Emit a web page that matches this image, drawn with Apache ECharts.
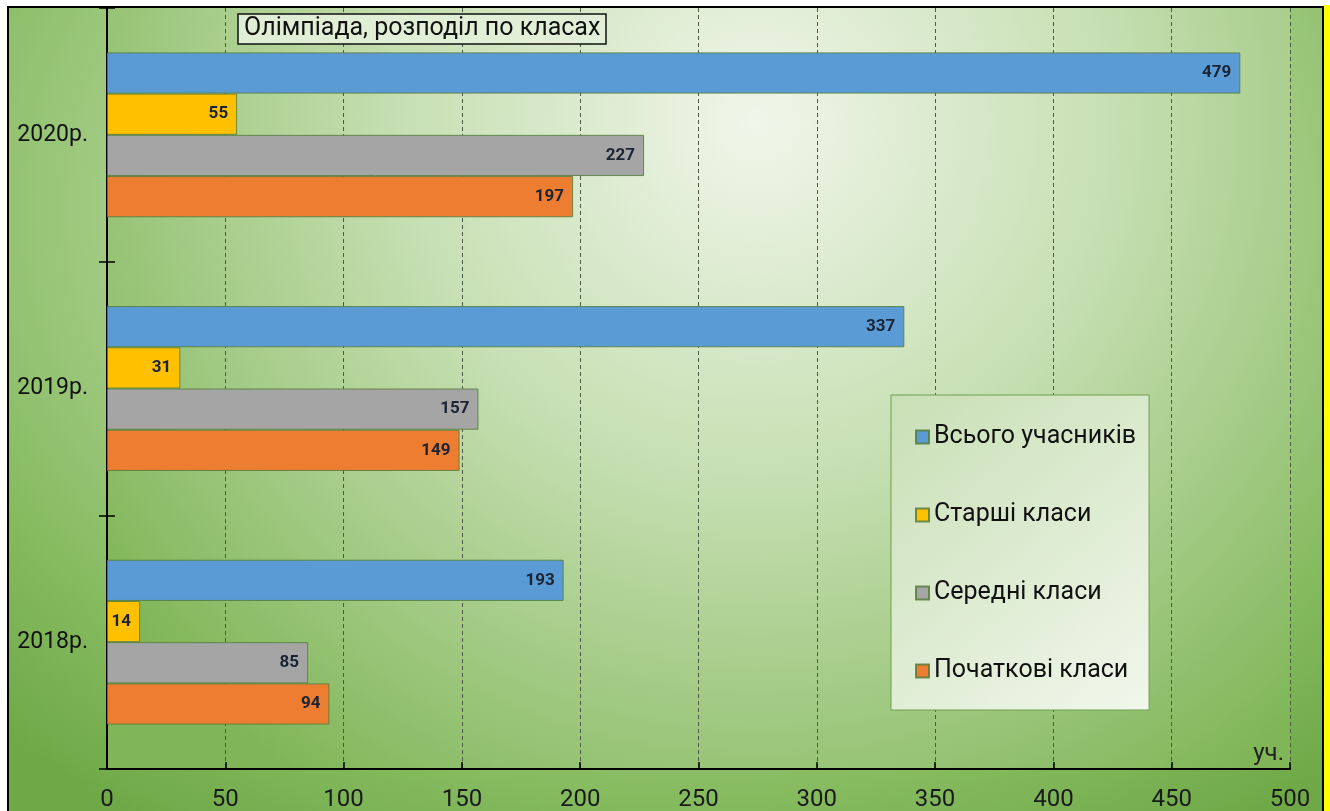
<!DOCTYPE html>
<html>
<head>
<meta charset="utf-8">
<script src="https://cdn.jsdelivr.net/npm/echarts@6/dist/echarts.min.js"></script>
<style>
  html, body { margin: 0; padding: 0; width: 1330px; height: 811px; background: #fff; overflow: hidden; }
  #frame {
    position: absolute; left: 7px; top: 6px; width: 1313px; height: 812px;
    border: 2px solid #000;
    background: radial-gradient(ellipse 75% 90% at 52% 25%, #e6f1dc 0%, #b5d59b 45%, #86bb60 80%, #6fa947 100%);
  }
  #strip { position: absolute; left: 1324px; top: 5px; width: 6px; height: 806px; background: #ffff00; }
  #chart { position: absolute; left: 0; top: 0; width: 1330px; height: 811px; }
</style>
</head>
<body>
<div id="frame"></div>
<div id="strip"></div>
<div id="chart"></div>
<script>
// дані олімпіади
var categories = ['2018р.', '2019р.', '2020р.']
var seriesNames = ['Всього учасників', 'Старші класи', 'Середні класи', 'Початкові класи']
var totalAll = [193, 337, 479]
var senior = [14, 31, 55]
var middle = [85, 157, 227]
var primary = [94, 149, 197]
var xMin = 0
var xMax = 500
var xStep = 50

var font = 'Roboto'

function barSeries(name, data, color) {
  return {
    name: name,
    type: 'bar',
    data: data,
    barGap: '0%',
    barCategoryGap: '35%',
    itemStyle: { color: color, borderColor: 'rgba(85,125,60,0.85)', borderWidth: 1 },
    label: {
      show: true,
      position: 'insideRight',
      distance: 9,
      fontFamily: font,
      fontWeight: 'bold',
      fontSize: 17,
      color: '#1b2433'
    }
  }
}

var chart = echarts.init(document.getElementById('chart'))
var options = {
  animation: false,
  title: {
    text: 'Олімпіада, розподіл по класах',
    left: 238,
    top: 14,
    padding: [3, 6, 3, 6],
    borderColor: '#111',
    borderWidth: 1.5,
    backgroundColor: 'rgba(226,239,216,0.95)',
    textStyle: { fontFamily: font, fontSize: 25, fontWeight: 'normal', color: '#111', lineHeight: 24 }
  },
  legend: {
    orient: 'vertical',
    left: 891,
    top: 395,
    data: seriesNames,
    icon: 'rect',
    padding: [28, 13, 25, 24],
    itemGap: 50,
    itemWidth: 13,
    itemHeight: 13,
    borderColor: '#6f9f4f',
    borderWidth: 1,
    backgroundColor: {
      type: 'linear', x: 0, y: 0, x2: 1, y2: 1,
      colorStops: [
        { offset: 0, color: '#c8dfb5' },
        { offset: 1, color: '#f1f7ec' }
      ]
    },
    textStyle: { fontFamily: font, fontSize: 25, lineHeight: 28, color: '#111' }
  },
  grid: {
    left: 107,
    right: 40,
    top: 8,
    bottom: 42,
    outerBoundsMode: 'none',
    show: true,
    borderWidth: 0,
    backgroundColor: {
      type: 'radial', x: 0.55, y: 0.15, r: 1.05,
      colorStops: [
        { offset: 0, color: '#f0f6ea' },
        { offset: 0.45, color: '#c6dfb2' },
        { offset: 1, color: '#80b658' }
      ]
    }
  },
  xAxis: {
    type: 'value',
    min: xMin,
    max: xMax,
    interval: xStep,
    name: 'уч.',
    nameLocation: 'end',
    nameGap: -6,
    nameTextStyle: {
      fontFamily: font, fontSize: 24, color: '#222',
      align: 'right', verticalAlign: 'bottom', padding: [0, 0, 3, 0]
    },
    axisLine: { show: true, lineStyle: { color: '#000', width: 2 } },
    axisTick: { show: true, inside: true, length: 7, lineStyle: { color: '#000', width: 1.5 } },
    axisLabel: { fontFamily: font, fontSize: 24, color: '#1a1a1a', margin: 19 },
    splitLine: { show: true, lineStyle: { color: '#4d5a45', width: 1, type: [4, 3] } }
  },
  yAxis: [
    {
      type: 'category',
      data: categories,
      axisLine: { show: true, lineStyle: { color: '#000', width: 2 } },
      axisTick: { show: true, length: 8, lineStyle: { color: '#000', width: 1.5 } },
      axisLabel: { fontFamily: font, fontSize: 23, color: '#111', margin: 19 },
      splitLine: { show: false }
    },
    {
      type: 'category',
      data: categories,
      position: 'left',
      axisLine: { show: false },
      axisTick: { show: true, inside: true, length: 8, lineStyle: { color: '#000', width: 1.5 } },
      axisLabel: { show: false },
      splitLine: { show: false }
    }
  ],
  series: [
    barSeries(seriesNames[0], totalAll, '#5b9bd5'),
    barSeries(seriesNames[1], senior, '#ffc000'),
    barSeries(seriesNames[2], middle, '#a5a5a5'),
    barSeries(seriesNames[3], primary, '#ed7d31')
  ]
}
chart.setOption(options)
</script>
</body>
</html>
